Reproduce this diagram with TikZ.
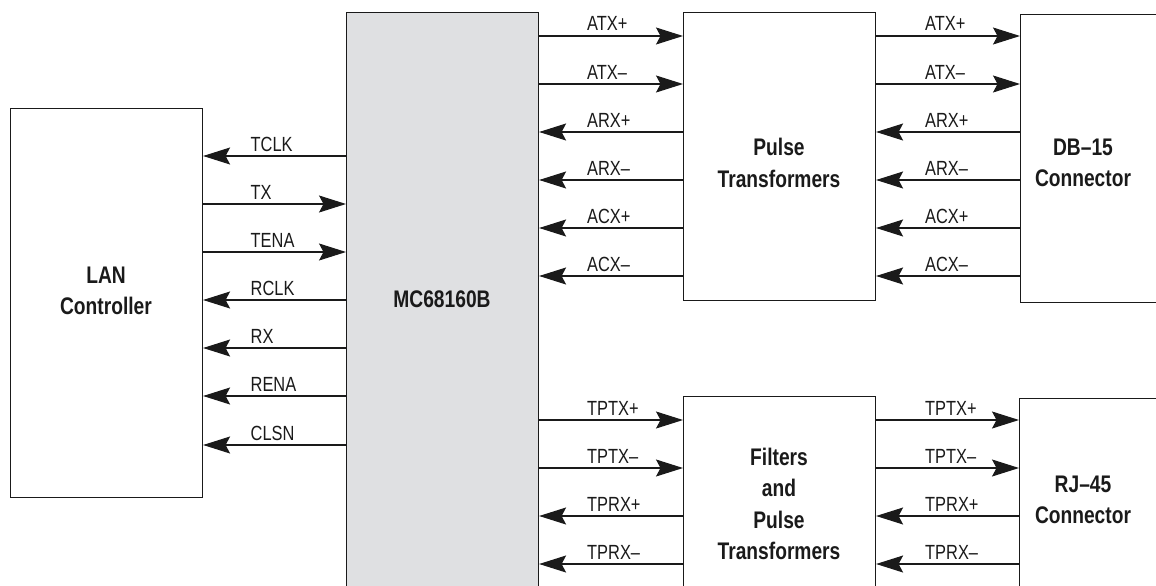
\documentclass[tikz,border=0pt]{standalone}
\usepackage{fontspec}
\setmainfont{Liberation Sans}[FakeStretch=0.8]
\usetikzlibrary{arrows.meta}
\definecolor{chipgray}{HTML}{DFE0E2}
\definecolor{ink}{HTML}{1A1A1A}
\begin{document}
\begin{tikzpicture}[x=1pt,y=-1pt,
  box/.style={draw=ink,line width=1.1pt,anchor=north west,inner sep=0pt},
  boxtxt/.style={align=center,text=ink,font=\fontsize{24}{31.5}\selectfont\bfseries},
  lbl/.style={anchor=base west,inner sep=0pt,text=ink,font=\fontsize{20.5}{24}\selectfont},
  sig/.style={draw=ink,line width=1.1pt},
  fwd/.style={sig,-{Stealth[length=27pt,width=17pt,inset=4.5pt]}},
  bwd/.style={sig,{Stealth[length=27pt,width=17pt,inset=4.5pt]}-}]
\useasboundingbox (0,0) rectangle (1156,586);
\clip (0,0) rectangle (1156,586);
% boxes
\node[box,minimum width=192pt,minimum height=389pt] (lan) at (10,108) {};
\node[box,fill=chipgray,minimum width=192pt,minimum height=600pt] (mc) at (346,12) {};
\node[box,minimum width=192pt,minimum height=288pt] (pt) at (683,12) {};
\node[box,minimum width=160pt,minimum height=288pt] (db) at (1020,14) {};
\node[box,minimum width=192pt,minimum height=220pt] (fp) at (683,396) {};
\node[box,minimum width=160pt,minimum height=220pt] (rj) at (1019,398) {};
% box texts
\node[boxtxt] (lant) at (106,291) {LAN\\Controller};
\node[boxtxt] (mct) at (442,299) {MC68160B};
\node[boxtxt] (ptt) at (779,163) {Pulse\\Transformers};
\node[boxtxt] (dbt) at (1083,163) {DB–15\\Connector};
\node[boxtxt] (fpt) at (779,504) {Filters\\and\\Pulse\\Transformers};
\node[boxtxt] (rjt) at (1083,500) {RJ–45\\Connector};
% LAN <-> MC
\foreach \yy/\tt/\dd [count=\i] in {156/TCLK/bwd,204/TX/fwd,252/TENA/fwd,300/RCLK/bwd,348/RX/bwd,396/RENA/bwd,445/CLSN/bwd}{
  \coordinate (l\i) at (0,\yy);
  \draw[\dd] (lan.east |- l\i) -- (mc.west |- l\i);
  \node[lbl] (ll\i) at (250.5,\yy-5) {\tt};
}
% MC <-> Pulse Transformers, Pulse Transformers <-> DB-15
\foreach \yy/\tt/\dd [count=\i] in {36/ATX+/fwd,84/ATX–/fwd,132/ARX+/bwd,180/ARX–/bwd,228/ACX+/bwd,276/ACX–/bwd}{
  \coordinate (a\i) at (0,\yy);
  \draw[\dd] (mc.east |- a\i) -- (pt.west |- a\i);
  \node[lbl] (la\i) at (587,\yy-5) {\tt};
  \draw[\dd] (pt.east |- a\i) -- (db.west |- a\i);
  \node[lbl] (lb\i) at (925,\yy-5) {\tt};
}
% MC <-> Filters, Filters <-> RJ-45
\foreach \yy/\tt/\dd [count=\i] in {420/TPTX+/fwd,468/TPTX–/fwd,516/TPRX+/bwd,564/TPRX–/bwd}{
  \coordinate (t\i) at (0,\yy);
  \draw[\dd] (mc.east |- t\i) -- (fp.west |- t\i);
  \node[lbl] (lt\i) at (587,\yy-5) {\tt};
  \draw[\dd] (fp.east |- t\i) -- (rj.west |- t\i);
  \node[lbl] (lr\i) at (925,\yy-5) {\tt};
}
\end{tikzpicture}
\end{document}
